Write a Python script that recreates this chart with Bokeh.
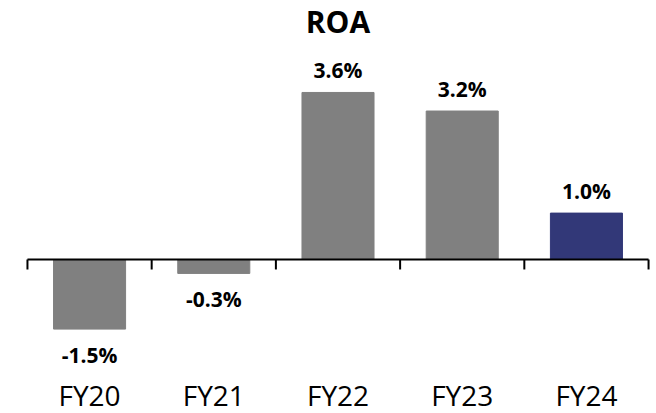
from bokeh.plotting import figure
from bokeh.models import Range1d, ColumnDataSource
from bokeh.core.properties import value
from bokeh.embed import file_html
from bokeh.resources import INLINE

# ---- data ----
title_text = "ROA"
categories = ["FY20", "FY21", "FY22", "FY23", "FY24"]
roa = [-1.5, -0.3, 3.6, 3.2, 1.0]
roa_labels = ["-1.5%", "-0.3%", "3.6%", "3.2%", "1.0%"]
bar_colors = ["#808080", "#808080", "#808080", "#808080", "#323878"]

FONT = "Open Sans"

xs = list(range(len(categories)))
src = ColumnDataSource(dict(x=xs, top=roa, color=bar_colors))

pos = [i for i, v in enumerate(roa) if v >= 0]
neg = [i for i, v in enumerate(roa) if v < 0]
src_pos = ColumnDataSource(dict(x=[xs[i] for i in pos], y=[roa[i] for i in pos],
                                label=[roa_labels[i] for i in pos]))
src_neg = ColumnDataSource(dict(x=[xs[i] for i in neg], y=[roa[i] for i in neg],
                                label=[roa_labels[i] for i in neg]))

y_lo, y_hi = -3.319, 5.582
x_lo, x_hi = -0.717, 4.564

p = figure(
    width=656, height=413,
    x_range=Range1d(x_lo, x_hi),
    y_range=Range1d(y_lo, y_hi),
    output_backend="svg", toolbar_location=None,
    min_border_left=0, min_border_right=0, min_border_top=0, min_border_bottom=0,
)
p.axis.visible = False
p.grid.visible = False
p.outline_line_color = None

p.vbar(x="x", top="top", bottom=0, width=0.58, color="color", source=src)

# zero axis line and category boundary ticks
bounds = [i - 0.5 for i in range(len(categories) + 1)]
p.segment(x0=bounds[0], x1=bounds[-1], y0=0, y1=0, line_color="black", line_width=2)
tick_len = 0.215
p.segment(x0=bounds, x1=bounds, y0=[0] * len(bounds), y1=[-tick_len] * len(bounds),
          line_color="black", line_width=2)

# value labels
p.text(x="x", y="y", text="label", source=src_pos, text_align="center",
       text_baseline="alphabetic", y_offset=-22, text_font=value(FONT),
       text_font_size="21px", text_font_style="bold", text_color="black")
p.text(x="x", y="y", text="label", source=src_neg, text_align="center",
       text_baseline="alphabetic", y_offset=26, text_font=value(FONT),
       text_font_size="21px", text_font_style="bold", text_color="black")

# category labels along the bottom
p.text(x=xs, y=[y_lo] * len(xs), text=categories, text_align="center",
       text_baseline="alphabetic", y_offset=-19, text_font=value(FONT),
       text_font_size="28px", text_color="black")

# title
p.text(x=[(bounds[0] + bounds[-1]) / 2], y=[y_hi], text=[title_text], text_align="center",
       text_baseline="alphabetic", y_offset=21, text_font=value(FONT),
       text_font_size="30px", text_font_style="bold", text_color="black")

open("out.html", "w").write(file_html(p, INLINE))
